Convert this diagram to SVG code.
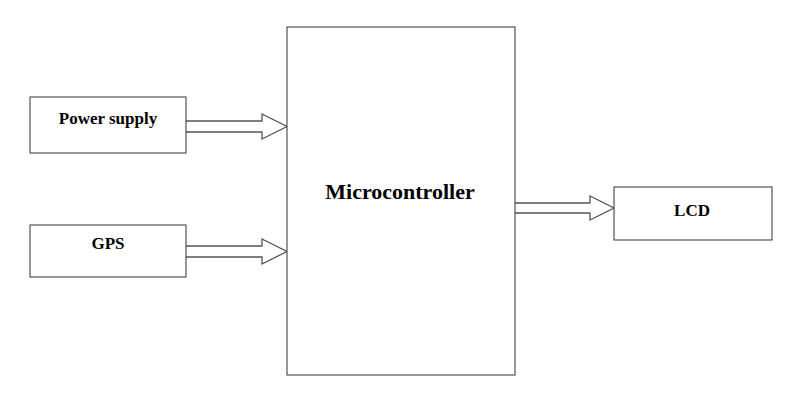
<svg xmlns="http://www.w3.org/2000/svg" width="800" height="402" viewBox="0 0 800 402">
<style>
.b{fill:#fff;stroke:#333;stroke-width:1}
.a{fill:#fff;stroke:#555;stroke-width:1.3}
text{font-family:"Liberation Serif",serif;font-weight:bold;fill:#000;text-anchor:middle}
</style>
<rect width="800" height="402" fill="#fff"/>
<g id="connectors">
<path class="a" d="M186,121 H262 V114 L287,126.5 L262,139 V132 H186"/>
<path class="a" d="M186,246 H262 V239 L287,251.5 L262,264 V257 H186"/>
<path class="a" d="M515,203 H590 V196 L614,208 L590,220 V213 H515"/>
</g>
<g id="power"><rect class="b" x="30" y="97" width="156" height="56"/><text x="108" y="124" font-size="17">Power supply</text></g>
<g id="gps"><rect class="b" x="30" y="225" width="156" height="52"/><text x="108" y="249" font-size="17">GPS</text></g>
<g id="mcu"><rect class="b" x="287" y="27" width="228" height="348"/><text x="400" y="199" font-size="22">Microcontroller</text></g>
<g id="lcd"><rect class="b" x="614" y="187" width="158" height="53"/><text x="692" y="216" font-size="17">LCD</text></g>
</svg>
